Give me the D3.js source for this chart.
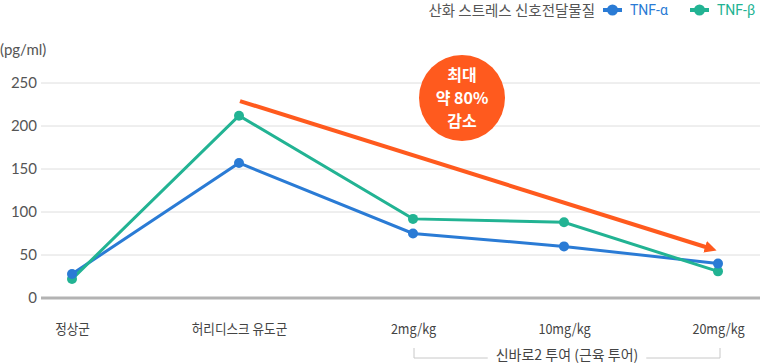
<!DOCTYPE html>
<html><head><meta charset="utf-8">
<script src="https://cdn.jsdelivr.net/npm/d3@7/dist/d3.min.js"></script>
<style>
body{margin:0;background:#fff;}
svg{display:block;font-family:"Noto Sans CJK KR","Noto Sans",sans-serif;}
</style></head>
<body><svg id="c" width="760" height="364"></svg>
<script>
const categories = ["정상군", "허리디스크 유도군", "2mg/kg", "10mg/kg", "20mg/kg"];
const tnfAlpha = [28, 157, 75, 60, 40];
const tnfBeta = [22, 212, 92, 88, 31];
const yTicks = [0, 50, 100, 150, 200, 250];
const trendFrom = {cat: "허리디스크 유도군", value: 229};
const trendTo = {cat: "20mg/kg", value: 57};
const seriesNames = ["TNF-α", "TNF-β"];
const legendTitle = "산화 스트레스 신호전달물질";
const unitLabel = "(pg/ml)";
const calloutLines = ["최대", "약 80%", "감소"];
const bracketLabel = "신바로2 투여 (근육 투어)";

const colors = ["#2a7bd5", "#22b393"];
const orange = "#ff5a1e";

const svg = d3.select("#c");
// category centres in the reference are not evenly spaced
const x = d3.scaleOrdinal().domain(categories).range([72, 239, 413, 564, 718]);
const y = d3.scaleLinear().domain([0, 250]).range([298, 83]);

// gridlines
svg.append("g").selectAll("line").data(yTicks.filter(d => d > 0)).join("line")
  .attr("x1", 41).attr("x2", 760)
  .attr("y1", d => y(d)).attr("y2", d => y(d))
  .attr("stroke", "#dedede").attr("stroke-width", 1);
svg.append("line").attr("x1", 41).attr("x2", 760).attr("y1", y(0)).attr("y2", y(0))
  .attr("stroke", "#b3b3b3").attr("stroke-width", 3);

// y tick labels via axis
const yAxis = svg.append("g").attr("transform", "translate(37,0)")
  .call(d3.axisLeft(y).tickValues(yTicks).tickSize(0).tickPadding(0));
yAxis.select(".domain").remove();
yAxis.selectAll("text").attr("font-family", "Lato, 'Noto Sans', sans-serif")
  .attr("font-size", 15).attr("fill", "#555");

svg.append("text").attr("x", 0).attr("y", 55).text(unitLabel)
  .attr("font-family", "Lato, 'Noto Sans', sans-serif")
  .attr("font-size", 15).attr("fill", "#555");

// x labels
const xAxis = svg.append("g").attr("transform", "translate(0,324)")
  .call(d3.axisBottom(x).tickSize(0).tickPadding(0));
xAxis.select(".domain").remove();
xAxis.selectAll("text").attr("font-size", 14).attr("fill", "#444")
  .attr("font-family", "'Noto Sans CJK KR', sans-serif")
  .attr("transform", "scale(0.9,1)");

// bracket
const bx1 = x("2mg/kg") + 1, bx2 = x("20mg/kg") + 2, by = 358;
const bracketG = svg.append("g");
const bt = bracketG.append("text").attr("x", (bx1 + bx2) / 2).attr("y", 360)
  .attr("text-anchor", "middle").attr("font-size", 14).attr("fill", "#444")
  .text(bracketLabel);
const bw = bt.node().getComputedTextLength();
const cx = (bx1 + bx2) / 2;
bracketG.append("path")
  .attr("d", `M${bx1},348V${by}H${cx - bw/2 - 8}M${cx + bw/2 + 8},${by}H${bx2}V348`)
  .attr("fill", "none").attr("stroke", "#c8c8c8").attr("stroke-width", 1);

// trend arrow
const defs = svg.append("defs");
defs.append("marker").attr("id", "ah").attr("viewBox", "0 0 10 10")
  .attr("refX", 6).attr("refY", 5).attr("markerWidth", 3).attr("markerHeight", 3)
  .attr("orient", "auto").attr("markerUnits", "strokeWidth")
  .append("path").attr("d", "M0,0L10,5L0,10Z").attr("fill", orange);
svg.append("line")
  .attr("x1", x(trendFrom.cat) + 1).attr("y1", y(trendFrom.value))
  .attr("x2", x(trendTo.cat) - 6).attr("y2", y(trendTo.value))
  .attr("stroke", orange).attr("stroke-width", 4).attr("marker-end", "url(#ah)");

// series
const series = [tnfAlpha, tnfBeta];
const line = d3.line().x((d, i) => x(categories[i])).y(d => y(d));
series.forEach((s, k) => {
  svg.append("path").datum(s).attr("d", line).attr("fill", "none")
    .attr("stroke", colors[k]).attr("stroke-width", 3);
});
[1, 0].forEach(k => {
  svg.append("g").selectAll("circle").data(series[k]).join("circle")
    .attr("cx", (d, i) => x(categories[i])).attr("cy", d => y(d)).attr("r", 5)
    .attr("fill", colors[k]);
});

// callout circle
const cg = svg.append("g").attr("transform", "translate(462,98)");
cg.append("circle").attr("r", 43).attr("fill", orange);
cg.selectAll("text").data(calloutLines).join("text")
  .attr("y", (d, i) => -23 + i * 23 + 6).attr("text-anchor", "middle")
  .attr("font-size", 16).attr("font-weight", "bold").attr("fill", "#fff")
  .text(d => d);

// legend
svg.append("text").attr("x", 595).attr("y", 16).attr("text-anchor", "end")
  .attr("font-size", 14.5).attr("fill", "#555").text(legendTitle);
const legX = [603, 690];
seriesNames.forEach((n, k) => {
  const g = svg.append("g").attr("transform", `translate(${legX[k]},10)`);
  g.append("line").attr("x1", 0).attr("x2", 19).attr("stroke", colors[k]).attr("stroke-width", 4);
  g.append("circle").attr("cx", 9.5).attr("r", 5.5).attr("fill", colors[k]);
  g.append("text").attr("x", 27).attr("y", 5).attr("font-size", 14)
    .attr("font-family", "Roboto, 'Noto Sans', sans-serif")
    .attr("fill", colors[k]).text(n);
});
</script></body></html>
